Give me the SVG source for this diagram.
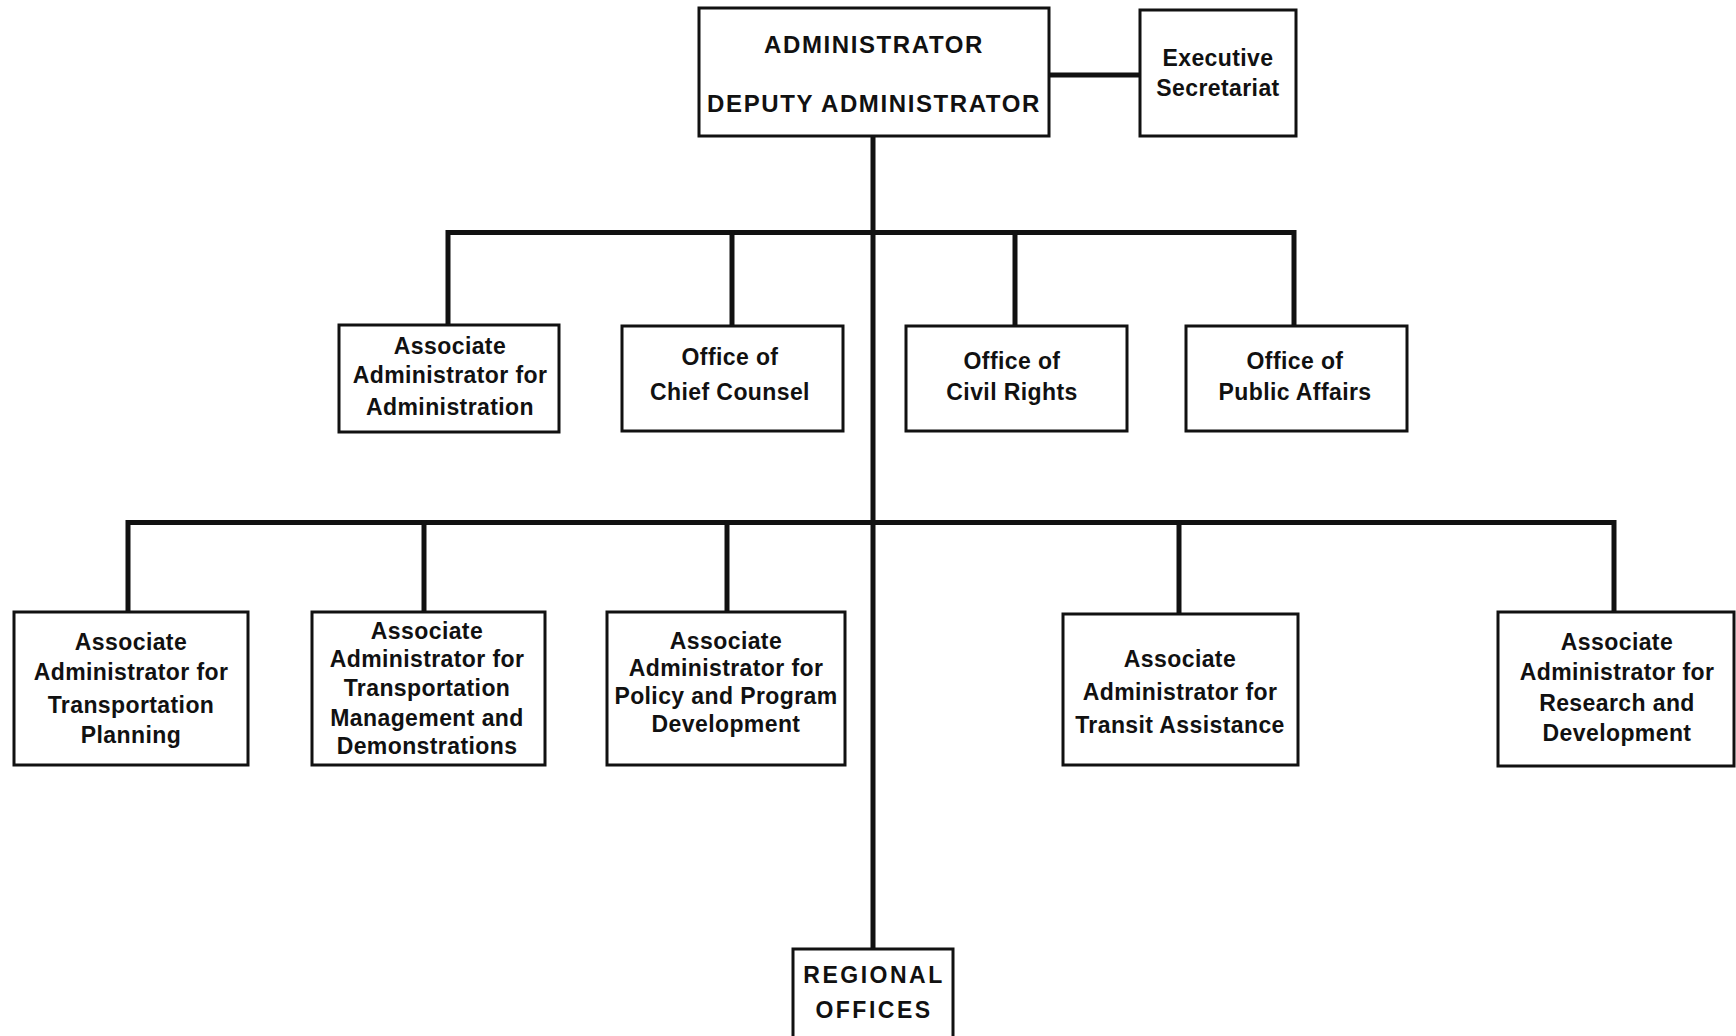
<svg xmlns="http://www.w3.org/2000/svg" width="1736" height="1036" viewBox="0 0 1736 1036">
<style>
.box{fill:#fff;stroke:#111;stroke-width:3}
.c{fill:none;stroke:#111;stroke-width:5;stroke-linecap:square}
text{font-family:"Liberation Sans",Arial,sans-serif;font-weight:bold;font-size:23px;fill:#111;text-anchor:middle;letter-spacing:0.4px}
.cap{font-size:24px;letter-spacing:1.6px}
.reg{font-size:23px;letter-spacing:2.5px}
</style>
<rect width="1736" height="1036" fill="#fff"/>
<g id="connectors">
<path class="c" d="M1049 75 H1140"/>
<path class="c" d="M873 136 V949"/>
<path class="c" d="M448 324 V232.5 H1294 V325"/>
<path class="c" d="M732 232.5 V325"/>
<path class="c" d="M1015 232.5 V325"/>
<path class="c" d="M128 612 V522.5 H1614 V612"/>
<path class="c" d="M424 522.5 V612"/>
<path class="c" d="M727 522.5 V612"/>
<path class="c" d="M1179 522.5 V614"/>
</g>
<g id="administrator">
<rect class="box" x="699" y="8" width="350" height="128"/>
<text class="cap" x="874" y="53">ADMINISTRATOR</text>
<text class="cap" x="874" y="112">DEPUTY ADMINISTRATOR</text>
</g>
<g id="executive-secretariat">
<rect class="box" x="1140" y="10" width="156" height="126"/>
<text x="1218" y="66">Executive</text>
<text x="1218" y="96">Secretariat</text>
</g>
<g id="aa-administration">
<rect class="box" x="339" y="325" width="220" height="107"/>
<text x="450" y="354">Associate</text>
<text x="450" y="383">Administrator for</text>
<text x="450" y="415">Administration</text>
</g>
<g id="chief-counsel">
<rect class="box" x="622" y="326" width="221" height="105"/>
<text x="730" y="365">Office of</text>
<text x="730" y="400">Chief Counsel</text>
</g>
<g id="civil-rights">
<rect class="box" x="906" y="326" width="221" height="105"/>
<text x="1012" y="369">Office of</text>
<text x="1012" y="400">Civil Rights</text>
</g>
<g id="public-affairs">
<rect class="box" x="1186" y="326" width="221" height="105"/>
<text x="1295" y="369">Office of</text>
<text x="1295" y="400">Public Affairs</text>
</g>
<g id="aa-transportation-planning">
<rect class="box" x="14" y="612" width="234" height="153"/>
<text x="131" y="650">Associate</text>
<text x="131" y="680">Administrator for</text>
<text x="131" y="713">Transportation</text>
<text x="131" y="743">Planning</text>
</g>
<g id="aa-transportation-management">
<rect class="box" x="312" y="612" width="233" height="153"/>
<text x="427" y="639">Associate</text>
<text x="427" y="667">Administrator for</text>
<text x="427" y="696">Transportation</text>
<text x="427" y="726">Management and</text>
<text x="427" y="754">Demonstrations</text>
</g>
<g id="aa-policy">
<rect class="box" x="607" y="612" width="238" height="153"/>
<text x="726" y="649">Associate</text>
<text x="726" y="676">Administrator for</text>
<text x="726" y="704">Policy and Program</text>
<text x="726" y="732">Development</text>
</g>
<g id="aa-transit-assistance">
<rect class="box" x="1063" y="614" width="235" height="151"/>
<text x="1180" y="667">Associate</text>
<text x="1180" y="700">Administrator for</text>
<text x="1180" y="733">Transit Assistance</text>
</g>
<g id="aa-research-development">
<rect class="box" x="1498" y="612" width="236" height="154"/>
<text x="1617" y="650">Associate</text>
<text x="1617" y="680">Administrator for</text>
<text x="1617" y="711">Research and</text>
<text x="1617" y="741">Development</text>
</g>
<g id="regional-offices">
<rect class="box" x="793" y="949" width="160" height="100"/>
<text class="reg" x="874" y="983">REGIONAL</text>
<text class="reg" x="874" y="1018">OFFICES</text>
</g>
</svg>
